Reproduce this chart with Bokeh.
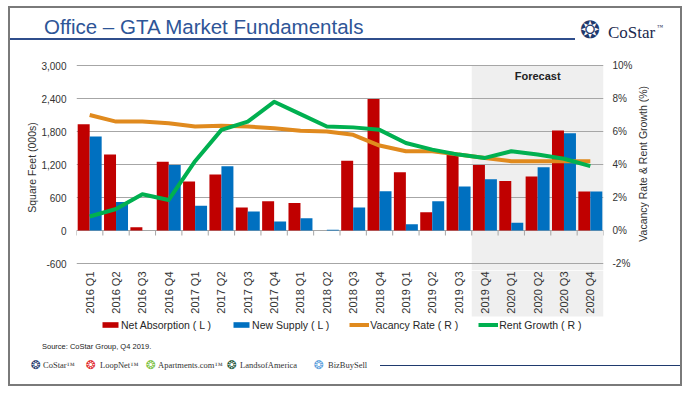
import numpy as np
from bokeh.plotting import figure
from bokeh.layouts import column, row
from bokeh.models import (Range1d, LinearAxis, FixedTicker, NumeralTickFormatter,
                          PrintfTickFormatter, Label, Legend, LegendItem, Div)
from bokeh.core.properties import value
from bokeh.embed import file_html
from bokeh.resources import INLINE

# ---------------- data ----------------
categories = ["2016 Q1", "2016 Q2", "2016 Q3", "2016 Q4",
              "2017 Q1", "2017 Q2", "2017 Q3", "2017 Q4",
              "2018 Q1", "2018 Q2", "2018 Q3", "2018 Q4",
              "2019 Q1", "2019 Q2", "2019 Q3", "2019 Q4",
              "2020 Q1", "2020 Q2", "2020 Q3", "2020 Q4"]
net_absorption = [1930, 1380, 60, 1250, 890, 1020, 420, 530, 500, 0,
                  1270, 2390, 1060, 330, 1410, 1190, 900, 980, 1820, 710]
new_supply = [1710, 520, 0, 1190, 450, 1170, 345, 165, 225, 15,
              420, 715, 115, 530, 800, 930, 140, 1150, 1770, 710]
vacancy_rate = [7.0, 6.6, 6.6, 6.5, 6.3, 6.35, 6.3, 6.2, 6.05, 6.0,
                5.8, 5.15, 4.8, 4.8, 4.6, 4.4, 4.2, 4.2, 4.2, 4.2]
rent_growth = [0.85, 1.3, 2.2, 1.85, 4.2, 6.1, 6.6, 7.8, 7.05, 6.3,
               6.25, 6.1, 5.3, 4.9, 4.6, 4.4, 4.8, 4.6, 4.35, 3.9]
left_ticks = [-600, 0, 600, 1200, 1800, 2400, 3000]
right_ticks = [-2, 0, 2, 4, 6, 8, 10]
forecast_start = "2019 Q4"
series_names = ["Net Absorption ( L )", "New Supply ( L )",
                "Vacancy Rate ( R )", "Rent Growth ( R )"]
left_title = "Square Feet (000s)"
right_title = "Vacancy Rate &amp; Rent Growth (%)"
title_text = "Office \u2013 GTA Market Fundamentals"
source_text = "Source: CoStar Group, Q4 2019."
brand_names = ["CoStar\u2122", "LoopNet\u2122", "Apartments.com\u2122",
               "LandsofAmerica", "BizBuySell"]
brand_colors = ["#1F3A6E", "#E0262B", "#7AC143", "#1E5A3C", "#5AA0DC"]

FONT = "Liberation Sans"
SERIF = "Liberation Serif"
RED, BLUE, ORANGE, GREEN = "#C00000", "#0070C0", "#E08A1E", "#00B050"
NAVY = "#1F3A6E"
SHADE = "#EFEFEF"

W = 670            # inner slide width
RW = 44            # width of the right-hand title strip
MH = 222           # height of the main chart figure
SH = 67            # height of the category strip
n = len(categories)
xc = np.arange(n) + 0.5
fs = categories.index(forecast_start)
RATIO = 300.0      # square feet (000s) per percentage point
PXU = 0.055        # pixels per square-foot unit
Y_TOP = 3000 + 1 / PXU
Y_BOT = -600 - 7 / PXU

COMMON = dict(output_backend="svg", toolbar_location=None, outline_line_color=None,
              background_fill_color="white", border_fill_color="white")


def span(x, y, text, size, color, font=FONT, extra=""):
    return (f'<span style="position:absolute;left:{x}px;top:{y - size / 2}px;'
            f'font-family:\'{font}\';font-size:{size}px;line-height:{size}px;'
            f'color:{color};white-space:nowrap;{extra}">{text}</span>')


def rule(x, y, w, h, color):
    return (f'<div style="position:absolute;left:{x}px;top:{y}px;width:{w}px;'
            f'height:{h}px;background:{color}"></div>')


def box(w, h, inner):
    return (f'<div style="position:relative;width:{w}px;height:{h}px;'
            f'overflow:hidden;background:white">{inner}</div>')


# ---------------- header ----------------
head_html = (span(34, 19, title_text, 20.5, "#2E5597") +
             rule(0, 29.5, 565, 2, "#2F4E8C") +
             span(570, 22, "\u2742", 24, NAVY, font="DejaVu Sans") +
             span(598, 24, "CoStar", 17, "#1B2A4E", font=SERIF) +
             span(647, 19, "\u2122", 6, "#1B2A4E", font=SERIF))
head = Div(text=box(W, 40, head_html), width=W, height=40, margin=0)

# ---------------- main chart ----------------
p = figure(width=W - RW, height=MH, x_range=Range1d(0, n), y_range=Range1d(Y_BOT, Y_TOP),
           x_axis_type=None, min_border_left=66, min_border_right=77 - RW,
           min_border_top=16, min_border_bottom=0, **COMMON)

p.quad(left=[fs], right=[n], bottom=[Y_BOT], top=[3000], fill_color=SHADE,
       line_color=None, level="image")

p.ygrid.ticker = FixedTicker(ticks=left_ticks)
p.ygrid.grid_line_color = "#A6A6A6"
p.ygrid.grid_line_width = 1

ya = p.left[0]
ya.ticker = FixedTicker(ticks=left_ticks)
ya.formatter = NumeralTickFormatter(format="0,0")
ya.axis_label = left_title

p.extra_y_ranges = {"pct": Range1d(Y_BOT / RATIO, Y_TOP / RATIO)}
ra = LinearAxis(y_range_name="pct", ticker=FixedTicker(ticks=right_ticks),
                formatter=PrintfTickFormatter(format="%d%%"))
p.add_layout(ra, "right")

for ax in [ya, ra]:
    ax.axis_line_color = None
    ax.major_tick_line_color = None
    ax.minor_tick_line_color = None
    ax.major_label_text_font = FONT
    ax.major_label_text_font_size = "10px"
    ax.major_label_text_color = "#333333"
    ax.axis_label_text_font = FONT
    ax.axis_label_text_font_size = "10.5px"
    ax.axis_label_text_font_style = "normal"
    ax.axis_label_text_color = "#333333"
ya.major_label_standoff = 4
ra.major_label_standoff = 3
ya.axis_label_standoff = 0

bx = np.arange(n + 1)
p.segment(x0=bx, y0=0, x1=bx, y1=-5 / PXU, line_color="#A6A6A6", line_width=1)

bw = 0.455
p.vbar(x=xc - bw / 2, top=net_absorption, width=bw, fill_color=RED, line_color=None)
p.vbar(x=xc + bw / 2, top=new_supply, width=bw, fill_color=BLUE, line_color=None)
p.line(xc, vacancy_rate, y_range_name="pct", line_color=ORANGE, line_width=4,
       line_join="round")
p.line(xc, rent_growth, y_range_name="pct", line_color=GREEN, line_width=4,
       line_join="round")

p.add_layout(Label(x=(fs + n) / 2, y=3000 - 10 / PXU, text="Forecast",
                   text_align="center", text_baseline="middle", text_font=FONT,
                   text_font_size="11px", text_font_style="bold", text_color="#222222"))

# right-hand axis title (reads bottom to top)
rt_html = (f'<div style="position:absolute;left:0;top:16px;width:14px;height:200px;'
           f'display:flex;align-items:center;justify-content:center">'
           f'<span style="writing-mode:vertical-rl;transform:rotate(180deg);'
           f'font-family:\'{FONT}\';font-size:10.5px;color:#333333;white-space:nowrap">'
           f'{right_title}</span></div>')
rtitle = Div(text=box(RW, MH, rt_html), width=RW, height=MH, margin=0)

# ---------------- category strip + legend ----------------
strip = figure(width=W, height=SH, x_range=p.x_range, y_range=Range1d(SH, 0),
               x_axis_type=None, y_axis_type=None, min_border_left=66,
               min_border_right=77, min_border_top=0, min_border_bottom=0, **COMMON)
strip.grid.visible = False
strip.quad(left=[fs], right=[n], bottom=[46], top=[0], fill_color=SHADE,
           line_color=None, level="image")
strip.text(x=xc, y=1, text=categories, angle=np.pi / 2, text_align="right",
           text_baseline="middle", text_font=value(FONT), text_font_size="11px",
           text_color="#333333")

# legend proxies: one point each, placed outside the visible x range
k_na = strip.vbar(x=[-5], top=[0], width=bw, fill_color=RED, line_color=None)
k_ns = strip.vbar(x=[-5], top=[0], width=bw, fill_color=BLUE, line_color=None)
k_vr = strip.line(x=[-6, -5], y=[0, 0], line_color=ORANGE, line_width=4)
k_rg = strip.line(x=[-6, -5], y=[0, 0], line_color=GREEN, line_width=4)
legend = Legend(items=[LegendItem(label=series_names[0], renderers=[k_na]),
                       LegendItem(label=series_names[1], renderers=[k_ns]),
                       LegendItem(label=series_names[2], renderers=[k_vr]),
                       LegendItem(label=series_names[3], renderers=[k_rg])],
                orientation="horizontal", location=(24, 6.5), glyph_width=20,
                glyph_height=7, label_height=7, label_standoff=1, spacing=20,
                padding=0, margin=0, border_line_color=None, background_fill_alpha=0,
                label_text_font=FONT, label_text_font_size="10.5px",
                label_text_color="#262626")
strip.add_layout(legend)

# ---------------- footer ----------------
foot_html = span(32, 10, source_text, 7.5, "#222222")
icon_x = [21, 76, 136, 217, 304]
text_x = [33, 90, 148, 230, 318]
for ix, tx, name, col in zip(icon_x, text_x, brand_names, brand_colors):
    foot_html += span(ix, 28, "\u2742", 12, col, font="DejaVu Sans")
    foot_html += span(tx, 28, name, 8.5, "#333333", font=SERIF)
foot_html += rule(370, 27.5, 300, 1.5, NAVY)
foot = Div(text=box(W, 47, foot_html), width=W, height=47, margin=0)

layout = column(head, row(p, rtitle, spacing=0), strip, foot, spacing=0,
                styles={"border": "2px solid #7a7a7a", "margin-left": "8px",
                        "margin-top": "6px"})

open("out.html", "w").write(file_html(layout, INLINE))
